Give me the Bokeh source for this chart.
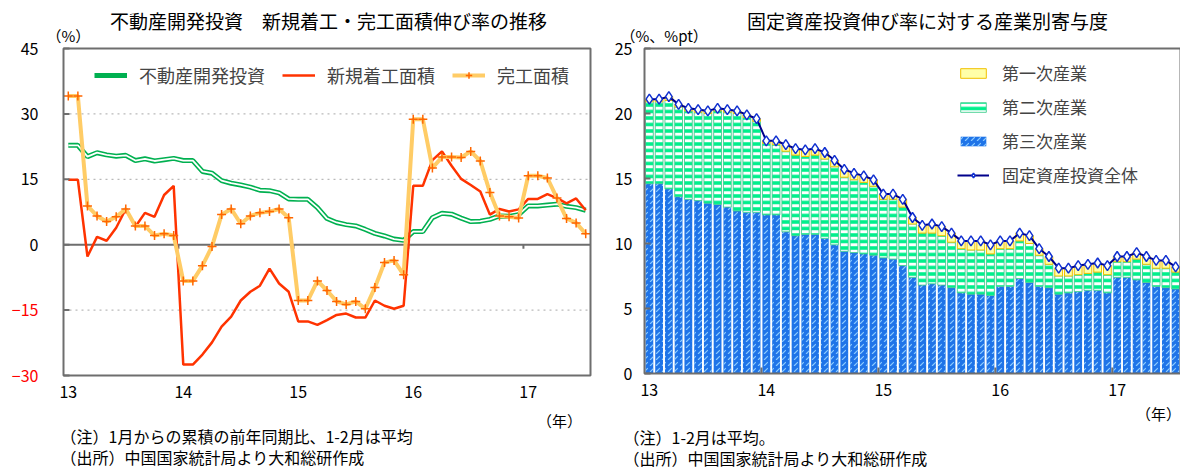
import numpy as np
from bokeh.plotting import figure
from bokeh.layouts import row
from bokeh.models import Legend, LegendItem
from bokeh.core.properties import value
from bokeh.embed import file_html
from bokeh.resources import INLINE

FONT = "Noto Sans CJK JP"

# ---------------------------------------------------------------------------
# Data: monthly cumulative YoY growth, Jan 2013 - Jul 2017 (Jan = Feb = Jan-Feb)
# ---------------------------------------------------------------------------
year_labels = ["13", "14", "15", "16", "17"]
year_starts = [0, 12, 24, 36, 48]

# 不動産開発投資 (%)
dev_invest = [22.8, 22.8, 20.2, 21.1, 20.6, 20.3, 20.5, 19.3, 19.7, 19.2, 19.5, 19.8,
              19.3, 19.3, 16.8, 16.4, 14.7, 14.1, 13.7, 13.2, 12.5, 12.4, 11.9, 10.5,
              10.4, 10.4, 8.5, 6.0, 5.1, 4.6, 4.3, 3.5, 2.6, 2.0, 1.3, 1.0,
              3.0, 3.0, 6.2, 7.2, 7.0, 6.1, 5.3, 5.4, 5.8, 6.6, 6.5, 6.9,
              8.9, 8.9, 9.1, 9.3, 8.8, 8.5, 7.9]

# 新規着工面積 (%)
new_starts = [14.9, 14.9, -2.7, 1.8, 0.9, 3.9, 8.2, 4.1, 7.3, 6.4, 11.4, 13.5,
              -27.5, -27.5, -25.2, -22.4, -18.8, -16.5, -12.8, -10.8, -9.4, -5.5, -8.9, -10.8,
              -17.6, -17.6, -18.4, -17.3, -16.1, -15.8, -16.7, -16.7, -12.8, -14.0, -14.7, -14.0,
              13.5, 13.5, 19.4, 21.4, 18.1, 15.1, 13.7, 12.2, 6.9, 8.2, 7.6, 8.1,
              10.5, 10.5, 11.6, 10.7, 9.5, 10.6, 7.9]

# 完工面積 (%)
completed = [34.1, 34.1, 8.9, 6.6, 5.3, 6.4, 8.2, 4.3, 4.3, 2.1, 2.5, 2.1,
             -8.3, -8.3, -4.8, -0.4, 6.9, 8.2, 4.8, 6.6, 7.3, 7.6, 8.2, 6.2,
             -12.8, -12.8, -8.3, -10.5, -13.0, -13.7, -13.0, -14.7, -9.8, -4.1, -3.6, -6.9,
             28.8, 28.8, 17.6, 20.1, 20.1, 20.0, 21.4, 19.2, 12.0, 6.6, 6.4, 6.1,
             15.8, 15.8, 15.3, 10.7, 6.0, 5.0, 2.5]

# 固定資産投資: contribution by industry (%pt) and total growth (%)
tertiary = [14.6, 14.6, 14.2, 13.6, 13.4, 13.3, 13.1, 13.0, 12.8, 12.5, 12.4, 12.4,
            12.2, 12.2, 10.9, 10.6, 10.7, 10.7, 10.4, 9.9, 9.4, 9.3, 9.2, 9.1,
            8.9, 8.8, 8.3, 7.4, 6.8, 6.9, 6.8, 6.6, 6.2, 6.1, 6.1, 6.0,
            6.7, 6.7, 7.3, 7.0, 6.7, 6.6, 6.1, 6.2, 6.3, 6.4, 6.4, 6.2,
            7.4, 7.4, 7.2, 7.0, 6.7, 6.6, 6.5]
secondary = [6.3, 6.3, 6.8, 6.9, 6.8, 6.8, 6.9, 7.2, 7.3, 7.5, 7.3, 7.0,
             5.5, 5.4, 6.2, 6.2, 6.0, 6.1, 6.1, 6.0, 5.7, 5.6, 5.5, 5.3,
             4.5, 4.6, 4.5, 4.1, 4.0, 3.9, 3.8, 3.5, 3.4, 3.4, 3.4, 3.2,
             2.9, 2.9, 2.9, 3.0, 2.4, 1.8, 1.4, 1.3, 1.3, 1.3, 1.4, 1.4,
             1.2, 1.2, 1.6, 1.4, 1.4, 1.5, 1.3]
primary = [0.2, 0.2, 0.3, 0.2, 0.2, 0.2, 0.2, 0.2, 0.2, 0.2, 0.2, 0.2,
           0.2, 0.3, 0.5, 0.5, 0.5, 0.5, 0.5, 0.5, 0.6, 0.5, 0.5, 0.5,
           0.4, 0.4, 0.6, 0.5, 0.6, 0.7, 0.7, 0.7, 0.6, 0.7, 0.7, 0.7,
           0.6, 0.6, 0.6, 0.6, 0.5, 0.6, 0.6, 0.6, 0.7, 0.7, 0.7, 0.7,
           0.4, 0.4, 0.5, 0.6, 0.6, 0.6, 0.4]
fai_total = [21.1, 21.1, 21.3, 20.7, 20.4, 20.3, 20.2, 20.4, 20.3, 20.2, 19.9, 19.6,
             17.9, 17.9, 17.6, 17.3, 17.2, 17.3, 17.0, 16.4, 15.7, 15.4, 15.2, 14.9,
             13.8, 13.8, 13.4, 12.0, 11.4, 11.5, 11.3, 10.8, 10.2, 10.2, 10.2, 9.9,
             10.2, 10.2, 10.8, 10.6, 9.6, 9.0, 8.1, 8.1, 8.3, 8.4, 8.5, 8.3,
             9.0, 9.0, 9.3, 9.0, 8.7, 8.7, 8.2]

left_yticks = [45, 30, 15, 0, -15, -30]
right_yticks = [25, 20, 15, 10, 5, 0]

n = len(dev_invest)
months = list(range(n))
x_lo, x_hi = -0.5, n - 0.5
year_breaks = [s - 0.5 for s in year_starts[1:]]

FRAME = "#6E6E6E"
H = 468


class Panel:
    """A figure whose frame fills the canvas; the chart box sits inside it."""

    def __init__(self, width, box_left, box_top, box_right, box_bottom, y_lo, y_hi):
        self.ppx = (box_right - box_left) / (x_hi - x_lo)
        self.ppy = (box_bottom - box_top) / (y_hi - y_lo)
        xs = x_lo - box_left / self.ppx
        xe = x_hi + (width - box_right) / self.ppx
        ye = y_hi + box_top / self.ppy
        ys = y_lo - (H - box_bottom) / self.ppy
        self.xs, self.ye = xs, ye
        self.y_lo, self.y_hi = y_lo, y_hi
        p = figure(width=width, height=H, x_range=(xs, xe), y_range=(ys, ye),
                   output_backend="svg", toolbar_location=None,
                   x_axis_location=None, y_axis_location=None,
                   min_border=0)
        p.grid.visible = False
        p.outline_line_color = None
        p.background_fill_color = "white"
        p.border_fill_color = "white"
        self.p = p

    def x(self, px):
        return self.xs + px / self.ppx

    def y(self, py):
        return self.ye - py / self.ppy

    def text(self, px, py, texts, size="16px", align="left", color="#000000"):
        if isinstance(texts, str):
            texts = [texts]
        self.p.text(x=[self.x(px)] * len(texts), y=[self.y(py)] * len(texts), text=texts,
                    text_font=value(FONT), text_font_size=value(size),
                    text_color=color, text_align=align, text_baseline="middle")

    def box(self):
        self.p.quad(left=x_lo, right=x_hi, bottom=self.y_lo, top=self.y_hi,
                    fill_color=None, line_color=FRAME, line_width=2)

    def yticks(self, ticks, label_px, colors):
        tick_len = 6 / self.ppx
        self.p.segment(x0=[x_lo] * len(ticks), x1=[x_lo + tick_len] * len(ticks),
                       y0=ticks, y1=ticks, line_color=FRAME, line_width=2)
        self.p.text(x=[self.x(label_px)] * len(ticks), y=ticks,
                    text=[str(t).replace("-", "−") for t in ticks],
                    text_font=value(FONT), text_font_size=value("16px"),
                    text_color=colors, text_align="right", text_baseline="middle")

    def xlabels(self, label_py):
        self.p.text(x=year_starts, y=[self.y(label_py)] * len(year_starts), text=year_labels,
                    text_font=value(FONT), text_font_size=value("16px"),
                    text_color="#000000", text_align="center", text_baseline="middle")


# ---------------------------------------------------------------------------
# Left: real estate investment, new starts and completed floor area
# ---------------------------------------------------------------------------
L = Panel(600, 63, 48, 590, 375, -30, 45)
p1 = L.p

# dotted grid and solid zero line
grid_vals = [-15, 15, 30]
p1.segment(x0=[x_lo] * 3, x1=[x_hi] * 3, y0=grid_vals, y1=grid_vals,
           line_color="#A8A8A8", line_width=1, line_dash="dotted")
p1.segment(x0=[x_lo], x1=[x_hi], y0=[0], y1=[0], line_color=FRAME, line_width=2)
p1.segment(x0=year_breaks, x1=year_breaks, y0=[0] * 4, y1=[-4 / L.ppy] * 4,
           line_color=FRAME, line_width=2)

r_dev = p1.line(months, dev_invest, line_color="#00B050", line_width=5)
p1.line(months, dev_invest, line_color="white", line_width=1.8)
r_new = p1.line(months, new_starts, line_color="#FF3300", line_width=2.5)
r_cmp = p1.line(months, completed, line_color="#FFCC66", line_width=4)
r_cmp_pts = p1.scatter(months, completed, marker="cross", size=9,
                       line_color="#FF6600", line_width=1.5)
L.box()

L.yticks(left_yticks, 38, ["#000000"] * 4 + ["#FF0000"] * 2)
L.xlabels(391)

leg1 = Legend(items=[LegendItem(label="不動産開発投資", renderers=[r_dev]),
                     LegendItem(label="新規着工面積", renderers=[r_new]),
                     LegendItem(label="完工面積", renderers=[r_cmp, r_cmp_pts])],
              orientation="horizontal", location=(94, 380),
              border_line_color=None, background_fill_alpha=0,
              label_text_font=FONT, label_text_font_size="18px",
              glyph_width=33, glyph_height=16, label_standoff=12, spacing=17,
              padding=4, margin=0)
p1.add_layout(leg1)

L.text(328, 20, "不動産開発投資　新規着工・完工面積伸び率の推移", size="19px", align="center")
L.text(46, 35, "（%）", size="15px")
L.text(559, 420, "（年）", size="15px", align="center")
L.text(60, 435, "（注）1月からの累積の前年同期比、1-2月は平均", size="16px")
L.text(60, 456, "（出所）中国国家統計局より大和総研作成", size="16px")

# ---------------------------------------------------------------------------
# Right: contribution by industry to fixed asset investment growth
# ---------------------------------------------------------------------------
R = Panel(580, 44, 48, 580, 373, 0, 25)
p2 = R.p

ter = np.array(tertiary)
sec_top = ter + np.array(secondary)
pri_top = sec_top + np.array(primary)

r_ter = p2.vbar(x=months, bottom=0, top=ter, width=0.8,
                fill_color="#1F74E8", line_color=None,
                hatch_pattern="right_diagonal_dash", hatch_color="#8CCBFF",
                hatch_scale=6, hatch_weight=1.2)
r_sec = p2.vbar(x=months, bottom=ter, top=sec_top, width=0.8,
                fill_color="#00F08C", line_color="#40C88C", line_width=0.8,
                hatch_pattern="horizontal_line", hatch_color="white",
                hatch_scale=6.5, hatch_weight=3)
r_pri = p2.vbar(x=months, bottom=sec_top, top=pri_top, width=0.8,
                fill_color="#FFFFA8", line_color="#F0C000", line_width=1)

r_tot = p2.line(months, fai_total, line_color="#00008B", line_width=2)
r_tot_pts = p2.scatter(months, fai_total, marker="diamond", size=10,
                       fill_color="white", line_color="#1030D0", line_width=1.5)
R.box()
p2.segment(x0=year_breaks, x1=year_breaks, y0=[0] * 4, y1=[6 / R.ppy] * 4,
           line_color=FRAME, line_width=2)

R.yticks(right_yticks, 32, "#000000")
R.xlabels(389)

leg2 = Legend(items=[LegendItem(label="第一次産業", renderers=[r_pri]),
                     LegendItem(label="第二次産業", renderers=[r_sec]),
                     LegendItem(label="第三次産業", renderers=[r_ter]),
                     LegendItem(label="固定資産投資全体", renderers=[r_tot, r_tot_pts])],
              orientation="vertical", location=(357, 281),
              border_line_color=None, background_fill_alpha=0,
              label_text_font=FONT, label_text_font_size="17px",
              glyph_width=32, glyph_height=12, label_height=20, label_standoff=13,
              spacing=9, padding=4, margin=0)
p2.add_layout(leg2)

R.text(327, 20, "固定資産投資伸び率に対する産業別寄与度", size="19px", align="center")
R.text(20, 35, "（%、%pt）", size="15px")
R.text(558, 413, "（年）", size="15px", align="center")
R.text(23, 436, "（注）1-2月は平均。", size="16px")
R.text(23, 457, "（出所）中国国家統計局より大和総研作成", size="16px")

layout = row(p1, p2)
open("out.html", "w").write(file_html(layout, INLINE))
